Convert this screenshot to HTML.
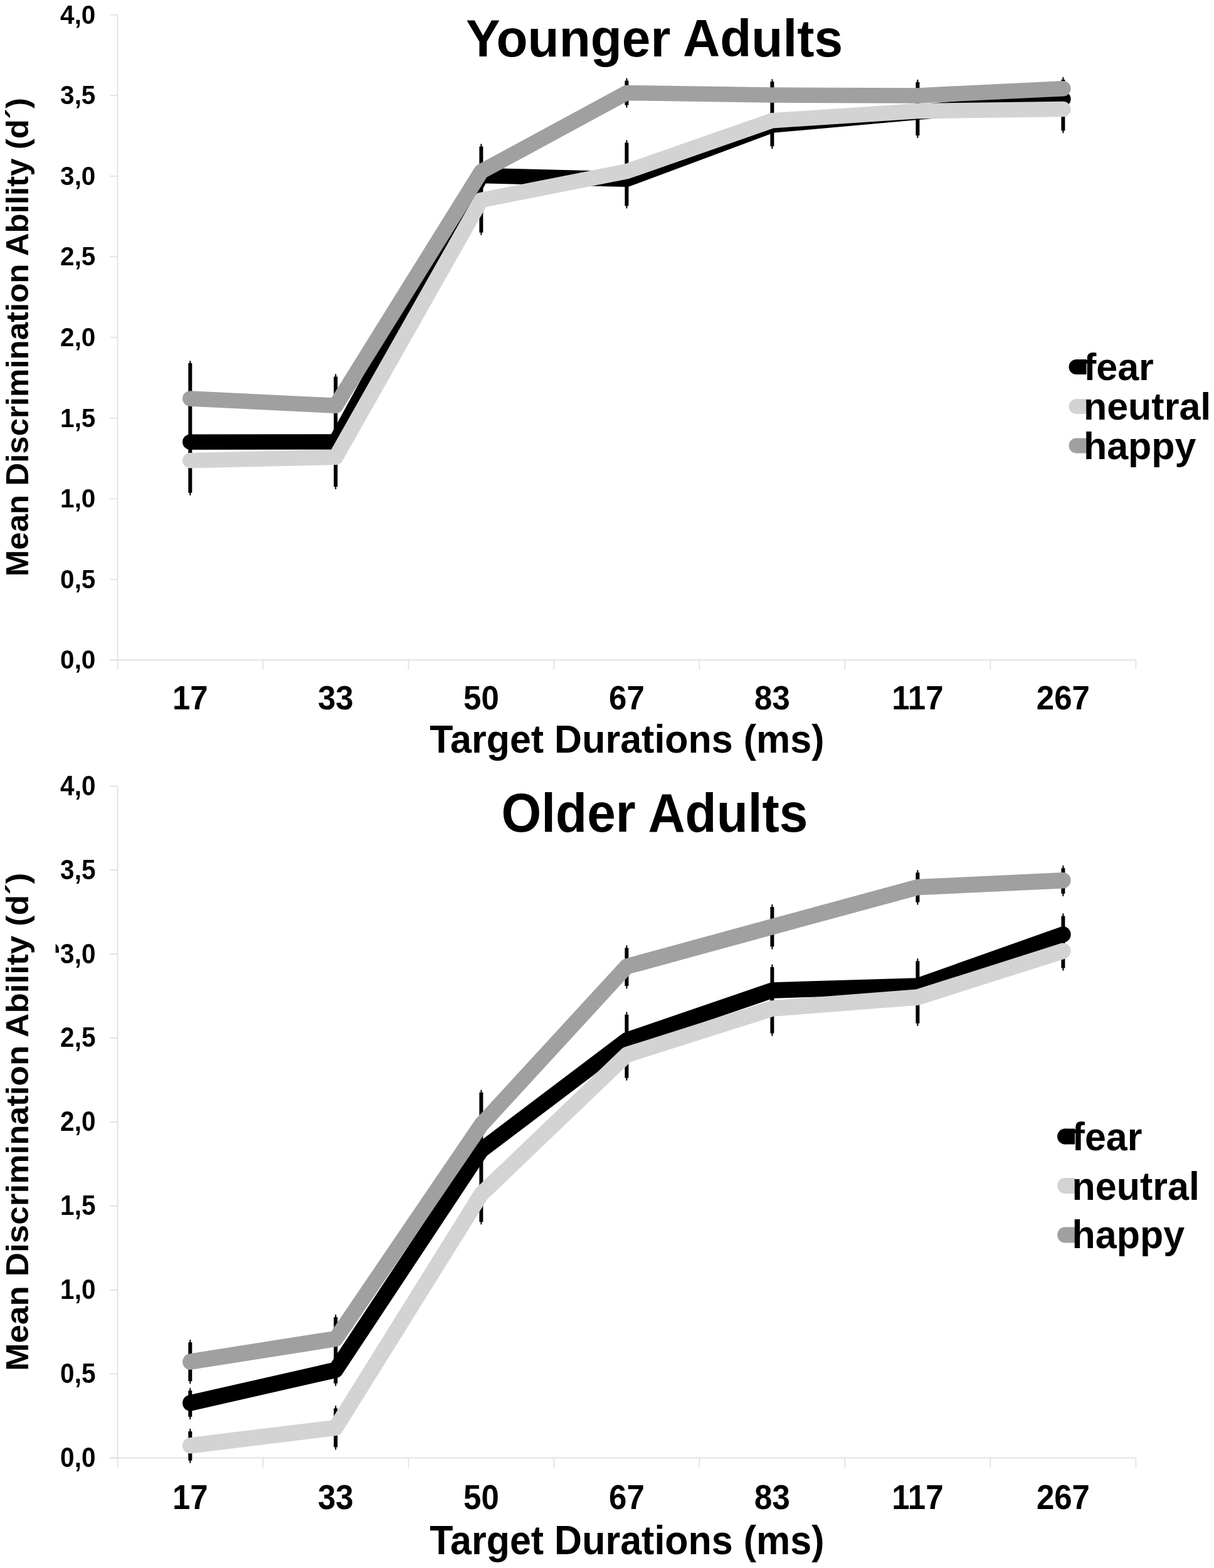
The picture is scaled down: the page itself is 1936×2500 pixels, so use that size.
<!DOCTYPE html>
<html><head><meta charset="utf-8"><title>Mean Discrimination Ability</title>
<style>
html,body{margin:0;padding:0;background:#fff;}
body{width:1936px;height:2500px;overflow:hidden;}
svg{display:block;}
</style></head>
<body>
<svg width="1936" height="2500" viewBox="0 0 1936 2500">
<rect width="1936" height="2500" fill="#fff"/>
<g id="younger">
<g stroke="#dedede" stroke-width="1.6" fill="none">
<line x1="187.6" y1="23.6" x2="187.6" y2="1067.4"/>
<line x1="175.3" y1="1052.4" x2="1811.4" y2="1052.4"/>
<line x1="175.3" y1="1052.40" x2="187.6" y2="1052.40"/>
<line x1="175.3" y1="923.80" x2="187.6" y2="923.80"/>
<line x1="175.3" y1="795.20" x2="187.6" y2="795.20"/>
<line x1="175.3" y1="666.60" x2="187.6" y2="666.60"/>
<line x1="175.3" y1="538.00" x2="187.6" y2="538.00"/>
<line x1="175.3" y1="409.40" x2="187.6" y2="409.40"/>
<line x1="175.3" y1="280.80" x2="187.6" y2="280.80"/>
<line x1="175.3" y1="152.20" x2="187.6" y2="152.20"/>
<line x1="175.3" y1="23.60" x2="187.6" y2="23.60"/>
<line x1="419.4" y1="1052.4" x2="419.4" y2="1067.4"/>
<line x1="651.4" y1="1052.4" x2="651.4" y2="1067.4"/>
<line x1="883.4" y1="1052.4" x2="883.4" y2="1067.4"/>
<line x1="1115.4" y1="1052.4" x2="1115.4" y2="1067.4"/>
<line x1="1347.4" y1="1052.4" x2="1347.4" y2="1067.4"/>
<line x1="1579.4" y1="1052.4" x2="1579.4" y2="1067.4"/>
<line x1="1811.4" y1="1052.4" x2="1811.4" y2="1067.4"/>
</g>
<g stroke="#000" fill="none">
<line x1="303.3" y1="575.90" x2="303.3" y2="789.00" stroke-width="2" stroke-linecap="round"/>
<line x1="303.3" y1="579.10" x2="303.3" y2="785.80" stroke-width="6"/>
<line x1="535.3" y1="597.20" x2="535.3" y2="779.30" stroke-width="2" stroke-linecap="round"/>
<line x1="535.3" y1="600.40" x2="535.3" y2="776.10" stroke-width="6"/>
<line x1="767.4" y1="230.20" x2="767.4" y2="373.90" stroke-width="2" stroke-linecap="round"/>
<line x1="767.4" y1="233.40" x2="767.4" y2="370.70" stroke-width="6"/>
<line x1="999.4" y1="125.40" x2="999.4" y2="170.70" stroke-width="2" stroke-linecap="round"/>
<line x1="999.4" y1="128.60" x2="999.4" y2="167.50" stroke-width="6"/>
<line x1="999.4" y1="224.30" x2="999.4" y2="331.50" stroke-width="2" stroke-linecap="round"/>
<line x1="999.4" y1="227.50" x2="999.4" y2="328.30" stroke-width="6"/>
<line x1="1231.4" y1="126.90" x2="1231.4" y2="236.50" stroke-width="2" stroke-linecap="round"/>
<line x1="1231.4" y1="130.10" x2="1231.4" y2="233.30" stroke-width="6"/>
<line x1="1463.4" y1="127.70" x2="1463.4" y2="219.20" stroke-width="2" stroke-linecap="round"/>
<line x1="1463.4" y1="130.90" x2="1463.4" y2="216.00" stroke-width="6"/>
<line x1="1695.4" y1="123.80" x2="1695.4" y2="211.50" stroke-width="2" stroke-linecap="round"/>
<line x1="1695.4" y1="127.00" x2="1695.4" y2="208.30" stroke-width="6"/>
</g>
<polyline points="303.3,704.70 535.3,704.60 767.4,280.00 999.4,285.80 1231.4,199.60 1463.4,178.90 1695.4,157.80" fill="none" stroke="#000000" stroke-width="24.5" stroke-linecap="round" stroke-linejoin="round"/>
<polyline points="303.3,734.20 535.3,729.00 767.4,318.90 999.4,273.30 1231.4,192.20 1463.4,177.00 1695.4,174.10" fill="none" stroke="#d3d3d3" stroke-width="24.5" stroke-linecap="round" stroke-linejoin="round"/>
<polyline points="303.3,635.40 535.3,646.70 767.4,273.60 999.4,148.10 1231.4,151.60 1463.4,152.40 1695.4,141.20" fill="none" stroke="#a0a0a0" stroke-width="24.5" stroke-linecap="round" stroke-linejoin="round"/>
<circle cx="1716.50" cy="585.00" r="12" fill="#000000"/>
<rect x="1716.50" y="573.00" width="16.00" height="24" fill="#000000"/>
<circle cx="1716.50" cy="648.00" r="12" fill="#d3d3d3"/>
<rect x="1716.50" y="636.00" width="16.00" height="24" fill="#d3d3d3"/>
<circle cx="1716.50" cy="710.60" r="12" fill="#a0a0a0"/>
<rect x="1716.50" y="698.60" width="16.00" height="24" fill="#a0a0a0"/>
<g style="font-family:'Liberation Sans',Arial,Helvetica,sans-serif;font-weight:bold" fill="#000">
<text transform="translate(1727.90,606.20) scale(1,1.0)" font-size="61" text-anchor="start">fear</text>
<text transform="translate(1727.90,669.40) scale(1,1.0)" font-size="61" text-anchor="start">neutral</text>
<text transform="translate(1727.90,732.00) scale(1,1.0)" font-size="61" text-anchor="start">happy</text>
<text transform="translate(152.40,1066.30) scale(1,1.04)" font-size="40.5" text-anchor="end">0,0</text>
<text transform="translate(152.40,937.70) scale(1,1.04)" font-size="40.5" text-anchor="end">0,5</text>
<text transform="translate(152.40,809.10) scale(1,1.04)" font-size="40.5" text-anchor="end">1,0</text>
<text transform="translate(152.40,680.50) scale(1,1.04)" font-size="40.5" text-anchor="end">1,5</text>
<text transform="translate(152.40,551.90) scale(1,1.04)" font-size="40.5" text-anchor="end">2,0</text>
<text transform="translate(152.40,423.30) scale(1,1.04)" font-size="40.5" text-anchor="end">2,5</text>
<text transform="translate(152.40,294.70) scale(1,1.04)" font-size="40.5" text-anchor="end">3,0</text>
<text transform="translate(152.40,166.10) scale(1,1.04)" font-size="40.5" text-anchor="end">3,5</text>
<text transform="translate(152.40,37.50) scale(1,1.04)" font-size="40.5" text-anchor="end">4,0</text>
<text transform="translate(303.30,1130.60) scale(1,1.04)" font-size="51" text-anchor="middle">17</text>
<text transform="translate(535.30,1130.60) scale(1,1.04)" font-size="51" text-anchor="middle">33</text>
<text transform="translate(767.40,1130.60) scale(1,1.04)" font-size="51" text-anchor="middle">50</text>
<text transform="translate(999.40,1130.60) scale(1,1.04)" font-size="51" text-anchor="middle">67</text>
<text transform="translate(1231.40,1130.60) scale(1,1.04)" font-size="51" text-anchor="middle">83</text>
<text transform="translate(1463.40,1130.60) scale(1,1.04)" font-size="51" text-anchor="middle">117</text>
<text transform="translate(1695.40,1130.60) scale(1,1.04)" font-size="51" text-anchor="middle">267</text>
<text transform="translate(999.90,1200.40) scale(1,1.02)" font-size="61" text-anchor="middle">Target Durations (ms)</text>
<text transform="translate(1043.50,90.00) scale(1,1.02)" font-size="82" text-anchor="middle">Younger Adults</text>
<text transform="translate(45.2,919.2) rotate(-90) scale(1,0.97)" font-size="51">Mean Discrimination Ability (d´)</text>
</g>
</g>
<g id="older" transform="translate(0,1228.83) scale(1,1.041)">
<g stroke="#dedede" stroke-width="1.6" fill="none">
<line x1="187.6" y1="23.6" x2="187.6" y2="1067.4"/>
<line x1="175.3" y1="1052.4" x2="1811.4" y2="1052.4"/>
<line x1="175.3" y1="1052.40" x2="187.6" y2="1052.40"/>
<line x1="175.3" y1="923.80" x2="187.6" y2="923.80"/>
<line x1="175.3" y1="795.20" x2="187.6" y2="795.20"/>
<line x1="175.3" y1="666.60" x2="187.6" y2="666.60"/>
<line x1="175.3" y1="538.00" x2="187.6" y2="538.00"/>
<line x1="175.3" y1="409.40" x2="187.6" y2="409.40"/>
<line x1="175.3" y1="280.80" x2="187.6" y2="280.80"/>
<line x1="175.3" y1="152.20" x2="187.6" y2="152.20"/>
<line x1="175.3" y1="23.60" x2="187.6" y2="23.60"/>
<line x1="419.4" y1="1052.4" x2="419.4" y2="1067.4"/>
<line x1="651.4" y1="1052.4" x2="651.4" y2="1067.4"/>
<line x1="883.4" y1="1052.4" x2="883.4" y2="1067.4"/>
<line x1="1115.4" y1="1052.4" x2="1115.4" y2="1067.4"/>
<line x1="1347.4" y1="1052.4" x2="1347.4" y2="1067.4"/>
<line x1="1579.4" y1="1052.4" x2="1579.4" y2="1067.4"/>
<line x1="1811.4" y1="1052.4" x2="1811.4" y2="1067.4"/>
</g>
<g stroke="#000" fill="none">
<line x1="303.3" y1="872.31" x2="303.3" y2="938.20" stroke-width="2" stroke-linecap="round"/>
<line x1="303.3" y1="875.51" x2="303.3" y2="935.00" stroke-width="6"/>
<line x1="303.3" y1="946.18" x2="303.3" y2="992.67" stroke-width="2" stroke-linecap="round"/>
<line x1="303.3" y1="949.38" x2="303.3" y2="989.47" stroke-width="6"/>
<line x1="303.3" y1="1008.62" x2="303.3" y2="1059.72" stroke-width="2" stroke-linecap="round"/>
<line x1="303.3" y1="1011.82" x2="303.3" y2="1056.52" stroke-width="6"/>
<line x1="535.3" y1="833.69" x2="535.3" y2="941.57" stroke-width="2" stroke-linecap="round"/>
<line x1="535.3" y1="836.89" x2="535.3" y2="938.37" stroke-width="6"/>
<line x1="535.3" y1="973.36" x2="535.3" y2="1039.26" stroke-width="2" stroke-linecap="round"/>
<line x1="535.3" y1="976.56" x2="535.3" y2="1036.06" stroke-width="6"/>
<line x1="767.4" y1="489.60" x2="767.4" y2="694.21" stroke-width="2" stroke-linecap="round"/>
<line x1="767.4" y1="492.80" x2="767.4" y2="691.01" stroke-width="6"/>
<line x1="999.4" y1="268.17" x2="999.4" y2="332.92" stroke-width="2" stroke-linecap="round"/>
<line x1="999.4" y1="271.37" x2="999.4" y2="329.72" stroke-width="6"/>
<line x1="999.4" y1="370.38" x2="999.4" y2="473.75" stroke-width="2" stroke-linecap="round"/>
<line x1="999.4" y1="373.58" x2="999.4" y2="470.55" stroke-width="6"/>
<line x1="1231.4" y1="205.45" x2="1231.4" y2="272.59" stroke-width="2" stroke-linecap="round"/>
<line x1="1231.4" y1="208.65" x2="1231.4" y2="269.39" stroke-width="6"/>
<line x1="1231.4" y1="297.57" x2="1231.4" y2="405.45" stroke-width="2" stroke-linecap="round"/>
<line x1="1231.4" y1="300.77" x2="1231.4" y2="402.25" stroke-width="6"/>
<line x1="1463.4" y1="152.90" x2="1463.4" y2="204.58" stroke-width="2" stroke-linecap="round"/>
<line x1="1463.4" y1="156.10" x2="1463.4" y2="201.38" stroke-width="6"/>
<line x1="1463.4" y1="288.35" x2="1463.4" y2="390.17" stroke-width="2" stroke-linecap="round"/>
<line x1="1463.4" y1="291.55" x2="1463.4" y2="386.97" stroke-width="6"/>
<line x1="1695.4" y1="146.08" x2="1695.4" y2="191.42" stroke-width="2" stroke-linecap="round"/>
<line x1="1695.4" y1="149.28" x2="1695.4" y2="188.22" stroke-width="6"/>
<line x1="1695.4" y1="219.47" x2="1695.4" y2="305.45" stroke-width="2" stroke-linecap="round"/>
<line x1="1695.4" y1="222.67" x2="1695.4" y2="302.25" stroke-width="6"/>
</g>
<polyline points="303.3,968.46 535.3,917.74 767.4,581.24 999.4,412.75 1231.4,336.38 1463.4,329.65 1695.4,250.79" fill="none" stroke="#000000" stroke-width="24.5" stroke-linecap="round" stroke-linejoin="round"/>
<polyline points="303.3,1033.59 535.3,1006.31 767.4,648.58 999.4,435.13 1231.4,364.24 1463.4,346.95 1695.4,276.15" fill="none" stroke="#d3d3d3" stroke-width="24.5" stroke-linecap="round" stroke-linejoin="round"/>
<polyline points="303.3,905.25 535.3,870.00 767.4,542.33 999.4,299.88 1231.4,238.97 1463.4,178.45 1695.4,167.98" fill="none" stroke="#a0a0a0" stroke-width="24.5" stroke-linecap="round" stroke-linejoin="round"/>
<circle cx="1698.10" cy="560.20" r="12" fill="#000000"/>
<rect x="1698.10" y="548.20" width="16.10" height="24" fill="#000000"/>
<circle cx="1698.10" cy="635.61" r="12" fill="#d3d3d3"/>
<rect x="1698.10" y="623.61" width="16.10" height="24" fill="#d3d3d3"/>
<circle cx="1698.10" cy="711.02" r="12" fill="#a0a0a0"/>
<rect x="1698.10" y="699.02" width="16.10" height="24" fill="#a0a0a0"/>
<g style="font-family:'Liberation Sans',Arial,Helvetica,sans-serif;font-weight:bold" fill="#000">
<text transform="translate(1709.60,581.53) scale(1,1.0)" font-size="61" text-anchor="start">fear</text>
<text transform="translate(1709.60,657.22) scale(1,1.0)" font-size="61" text-anchor="start">neutral</text>
<text transform="translate(1709.60,731.67) scale(1,1.0)" font-size="61" text-anchor="start">happy</text>
<text transform="translate(152.40,1066.30) scale(1,1.04)" font-size="40.5" text-anchor="end">0,0</text>
<text transform="translate(152.40,937.70) scale(1,1.04)" font-size="40.5" text-anchor="end">0,5</text>
<text transform="translate(152.40,809.10) scale(1,1.04)" font-size="40.5" text-anchor="end">1,0</text>
<text transform="translate(152.40,680.50) scale(1,1.04)" font-size="40.5" text-anchor="end">1,5</text>
<text transform="translate(152.40,551.90) scale(1,1.04)" font-size="40.5" text-anchor="end">2,0</text>
<text transform="translate(152.40,423.30) scale(1,1.04)" font-size="40.5" text-anchor="end">2,5</text>
<text transform="translate(152.40,294.70) scale(1,1.04)" font-size="40.5" text-anchor="end">3,0</text>
<text transform="translate(152.40,166.10) scale(1,1.04)" font-size="40.5" text-anchor="end">3,5</text>
<text transform="translate(152.40,37.50) scale(1,1.04)" font-size="40.5" text-anchor="end">4,0</text>
<text transform="translate(303.30,1130.60) scale(1,1.04)" font-size="51" text-anchor="middle">17</text>
<text transform="translate(535.30,1130.60) scale(1,1.04)" font-size="51" text-anchor="middle">33</text>
<text transform="translate(767.40,1130.60) scale(1,1.04)" font-size="51" text-anchor="middle">50</text>
<text transform="translate(999.40,1130.60) scale(1,1.04)" font-size="51" text-anchor="middle">67</text>
<text transform="translate(1231.40,1130.60) scale(1,1.04)" font-size="51" text-anchor="middle">83</text>
<text transform="translate(1463.40,1130.60) scale(1,1.04)" font-size="51" text-anchor="middle">117</text>
<text transform="translate(1695.40,1130.60) scale(1,1.04)" font-size="51" text-anchor="middle">267</text>
<text transform="translate(999.90,1200.40) scale(1,1.02)" font-size="61" text-anchor="middle">Target Durations (ms)</text>
<text transform="translate(1044.00,93.05) scale(1,1.02)" font-size="82" text-anchor="middle">Older Adults</text>
<text transform="translate(45.2,919.2) rotate(-90) scale(1,0.97)" font-size="51">Mean Discrimination Ability (d´)</text>
</g>
</g>
<path d="M88.6,1505.3 C92.5,1507 94.2,1511 94,1519 L88.6,1519 Z" fill="#000"/>
</svg>
</body></html>
